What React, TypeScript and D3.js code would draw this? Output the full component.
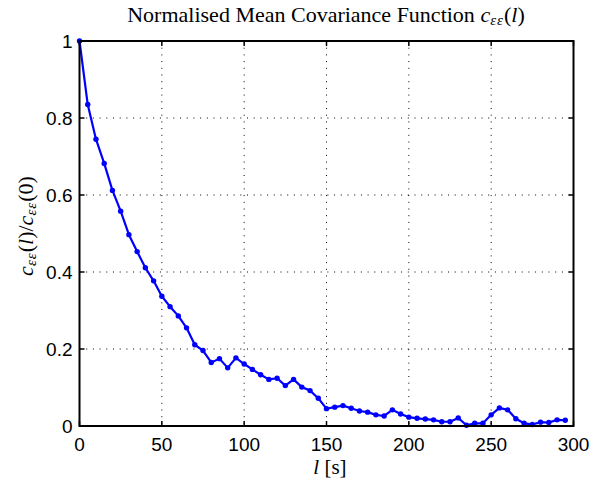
import React from "react";
import * as d3 from "d3";

const lags = [0,5,10,15,20,25,30,35,40,45,50,55,60,65,70,75,80,85,90,95,100,105,110,115,120,125,130,135,140,145,150,155,160,165,170,175,180,185,190,195,200,205,210,215,220,225,230,235,240,245,250,255,260,265,270,275,280,285,290,295];
const values = [1.0,0.835,0.745,0.682,0.612,0.558,0.497,0.453,0.411,0.377,0.337,0.310,0.286,0.255,0.211,0.196,0.165,0.175,0.151,0.177,0.161,0.147,0.133,0.121,0.124,0.105,0.121,0.101,0.092,0.072,0.045,0.049,0.053,0.046,0.039,0.036,0.029,0.026,0.042,0.031,0.023,0.020,0.018,0.016,0.011,0.011,0.021,0.002,0.007,0.007,0.029,0.047,0.042,0.019,0.007,0.004,0.010,0.009,0.016,0.015];
const xTicks = [0,50,100,150,200,250,300];
const yTicks = [0,0.2,0.4,0.6,0.8,1];
const yTickLabels = ["0","0.2","0.4","0.6","0.8","1"];

export default function App() {
  const W = 611, H = 484;
  const left = 79.5, right = 573.5, top = 41, bottom = 426;
  const x = d3.scaleLinear().domain([0, 300]).range([left, right]);
  const y = d3.scaleLinear().domain([0, 1]).range([bottom, top]);
  const line = d3.line<number>().x((_, i) => x(lags[i])).y((d) => y(d));
  const tick = 5;
  const sans = "Liberation Sans, Arial, sans-serif";
  const serif = "Liberation Serif, Times New Roman, serif";
  return (
    <svg width={W} height={H} style={{ position: "absolute", left: 0, top: 0, background: "#fff" }}>
      <rect x={0} y={0} width={W} height={H} fill="#fff" />
      {xTicks.slice(1, -1).map((t) => (
        <line key={"gx" + t} x1={x(t)} x2={x(t)} y1={top} y2={bottom} stroke="#000" strokeWidth={1} strokeDasharray="1,5.7" />
      ))}
      {yTicks.slice(1, -1).map((t) => (
        <line key={"gy" + t} x1={left} x2={right} y1={y(t)} y2={y(t)} stroke="#000" strokeWidth={1} strokeDasharray="1,5.7" />
      ))}
      {xTicks.map((t) => (
        <g key={"tx" + t}>
          <line x1={x(t)} x2={x(t)} y1={bottom} y2={bottom - tick} stroke="#000" strokeWidth={1.5} />
          <line x1={x(t)} x2={x(t)} y1={top} y2={top + tick} stroke="#000" strokeWidth={1.5} />
          <text x={x(t)} y={bottom + 25} textAnchor="middle" fontFamily={sans} fontSize={19} fill="#000">{t}</text>
        </g>
      ))}
      {yTicks.map((t, i) => (
        <g key={"ty" + t}>
          <line x1={left} x2={left + tick} y1={y(t)} y2={y(t)} stroke="#000" strokeWidth={1.5} />
          <line x1={right} x2={right - tick} y1={y(t)} y2={y(t)} stroke="#000" strokeWidth={1.5} />
          <text x={left - 7} y={y(t) + 7} textAnchor="end" fontFamily={sans} fontSize={19} fill="#000">{yTickLabels[i]}</text>
        </g>
      ))}
      <path d={line(values) || ""} fill="none" stroke="#0000ff" strokeWidth={2.2} strokeLinejoin="round" />
      {values.map((v, i) => (
        <circle key={"p" + i} cx={x(lags[i])} cy={y(v)} r={2.7} fill="#0000ff" />
      ))}
      <rect x={left} y={top} width={right - left} height={bottom - top} fill="none" stroke="#000" strokeWidth={2} />
      <text x={326} y={22} textAnchor="middle" fontFamily={serif} fontSize={22} fill="#000">
        Normalised Mean Covariance Function{" "}
        <tspan fontStyle="italic">c</tspan>
        <tspan fontStyle="italic" fontSize={15} dy={3} letterSpacing={1}>εε</tspan>
        <tspan dy={-3}>(</tspan>
        <tspan fontStyle="italic">l</tspan>
        <tspan>)</tspan>
      </text>
      <text x={330} y={474} textAnchor="middle" fontFamily={serif} fontSize={21} fill="#000">
        <tspan fontStyle="italic">l</tspan> [s]
      </text>
      <text transform={`translate(33,226) rotate(-90)`} textAnchor="middle" fontFamily={serif} fontSize={22} fill="#000">
        <tspan fontStyle="italic">c</tspan>
        <tspan fontStyle="italic" fontSize={15} dy={3} letterSpacing={1}>εε</tspan>
        <tspan dy={-3}>(</tspan>
        <tspan fontStyle="italic">l</tspan>
        <tspan>)/</tspan>
        <tspan fontStyle="italic">c</tspan>
        <tspan fontStyle="italic" fontSize={15} dy={3} letterSpacing={1}>εε</tspan>
        <tspan dy={-3}>(0)</tspan>
      </text>
    </svg>
  );
}
